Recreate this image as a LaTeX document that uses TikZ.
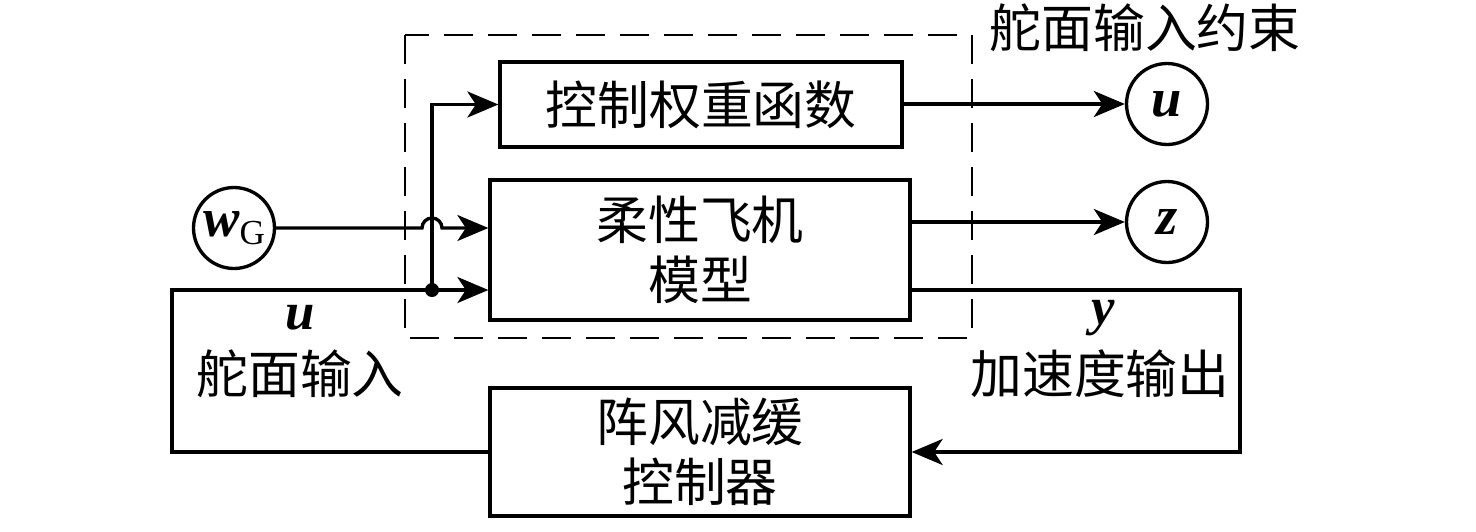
\documentclass[tikz,border=0pt]{standalone}
\usepackage{amsmath}
\usepackage{fontspec}
\newfontfamily\cjk{Noto Sans CJK SC}
\newfontfamily\tnr{Liberation Serif}
\usetikzlibrary{arrows.meta}
\usetikzlibrary{calc}
% block and signal styles
\tikzset{
	blockbox/.style={draw, line width=1.9pt, inner sep=0pt, align=center,
		font=\cjk\fontsize{29.5}{34}\selectfont},
	signal/.style={draw, circle, line width=1.9pt, minimum size=1.62cm, inner sep=0pt,
		font=\tnr\fontsize{31}{31}\selectfont},
	wire/.style={line width=1.9pt},
	feed/.style={wire, -{Stealth[length=0.62cm, width=0.52cm, inset=0.17cm]}},
	cjklabel/.style={font=\cjk\fontsize{29.5}{32}\selectfont, inner sep=0pt},
	varlabel/.style={font=\tnr\bfseries\itshape\fontsize{30}{30}\selectfont, inner sep=0pt}
}
\newcommand{\vsym}[1]{\textbf{\textit{#1}}}

\begin{document}
\begin{tikzpicture}[x=0.02cm, y=-0.02cm]
	% 1476 x 531 px frame
	\useasboundingbox (0,0) rectangle (1476,531);
	
	% constraint region
	\draw[line width=1.5pt, dash pattern=on 0.58cm off 0.3cm] (405,35) rectangle (972,338);
	\node[cjklabel] (limit) at (1145,28) {舵面输入约束};
	
	% blocks
	\node[blockbox, minimum width=8.04cm, minimum height=1.7cm] (weight) at (701,104.5) {控制权重函数};
	\node[blockbox, minimum width=8.4cm, minimum height=2.8cm] (plant) at (700,250) {柔性飞机\\模型};
	\node[blockbox, minimum width=8.4cm, minimum height=2.56cm] (ctrl) at (700,452) {阵风减缓\\控制器};
	
	% signals
	\node[signal] (gust) at (234,228) {\vsym{w}\raisebox{-0.3ex}{\fontsize{20}{20}\selectfont G}};
	\node[signal] (uout) at (1167,104) {\vsym{u}};
	\node[signal] (zout) at (1167,222) {\vsym{z}};
	
	% helper points
	\coordinate (split) at (432,290);
	\coordinate (right) at (1240,290);
	\coordinate (left) at (172,290);
	
	% outputs
	\draw[feed] (weight.east |- uout) -- (uout.west);
	\draw[feed] (plant.east |- zout) -- (zout.west);
	
	% gust input with a jump over the split line
	\draw[feed] (gust.east) -- ($(split |- gust)+(-10,0)$) arc (180:360:10) -- (plant.west |- gust);
	
	% feedback loop
	\draw[feed] (plant.east |- right) -- (right) -- (right |- ctrl) -- (ctrl.east);
	\draw[wire] (ctrl.west) -- (left |- ctrl) -- (left) -- (split);
	\draw[feed] (split) -- (plant.west |- split);
	\draw[feed] (split) -- (split |- weight) -- (weight.west);
	\fill (split) circle (7);
	
	% loop labels
	\node[varlabel] (uvar) at (300,318) {u};
	\node[cjklabel] (utext) at (300,374) {舵面输入};
	\node[varlabel] (yvar) at (1103,318) {y};
	\node[cjklabel] (ytext) at (1100,374) {加速度输出};
\end{tikzpicture}
\end{document}
